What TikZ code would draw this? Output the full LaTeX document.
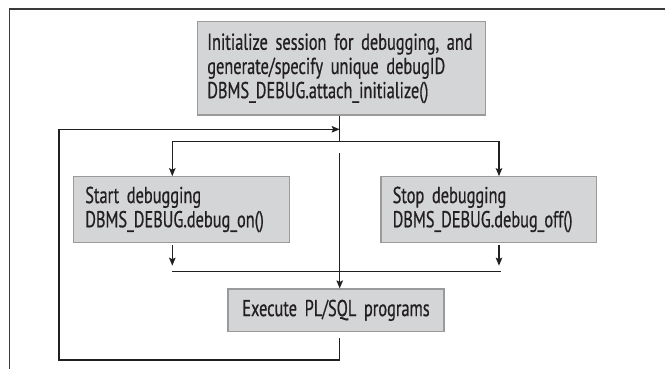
\documentclass[tikz,border=0pt]{standalone}
\usepackage{fontspec}
\setmainfont[FakeStretch=0.71,WordSpace=1.5,FakeBold=0.6]{PT Sans}
\usetikzlibrary{arrows.meta}
\definecolor{boxfill}{HTML}{D4D5D7}
\definecolor{boxline}{HTML}{9A9A9A}
\definecolor{ink}{HTML}{231F20}
\definecolor{framec}{HTML}{3A3A3A}
\tikzset{
  procbox/.style={draw=boxline, fill=boxfill, line width=1.1pt, inner ysep=0pt, text=ink,
    font=\fontsize{23}{24.2}\selectfont},
  conn/.style={draw=ink, line width=1.4pt},
  arr/.style={conn, -{Stealth[length=8pt,width=6.5pt,inset=1.5pt]}},
}
\begin{document}
\begin{tikzpicture}[x=1pt,y=1pt]
\useasboundingbox (0,0) rectangle (665,-369);
\fill[white] (0,0) rectangle (665,-369);
% frame
\draw[framec, line width=1.6pt] (9.3,-369) -- (9.3,-9.3) -- (665,-9.3);

% boxes
\node[procbox, minimum width=288pt, minimum height=93.3pt, text width=268pt, inner xsep=10pt, align=left]
  (init) at (341.3,-68.35) {\mbox{Initialize session for debugging, and}\\\mbox{generate/specify unique debugID}\\\mbox{DBMS\_DEBUG.attach\_initialize()}};
\node[procbox, minimum width=216.4pt, minimum height=65.6pt, text width=192.4pt, inner xsep=12pt, align=left]
  (start) at (181.5,-209.5) {Start debugging\\\mbox{DBMS\_DEBUG.debug\_on()}};
\node[procbox, minimum width=215.3pt, minimum height=65.6pt, text width=191.9pt, inner xsep=11.7pt, align=left]
  (stop) at (488.65,-209.5) {Stop debugging\\\mbox{DBMS\_DEBUG.debug\_off()}};
\node[procbox, minimum width=216pt, minimum height=42.7pt, text width=194pt, inner xsep=11pt, align=center]
  (exec) at (336,-310.35) {\mbox{Execute PL/SQL programs}};

% coordinates
\coordinate (j) at (339.7,-141.7);
\coordinate (sL) at (172.3,-141.7);
\coordinate (sR) at (499,-141.7);
\coordinate (mid) at (339.7,-153.3);
\coordinate (aL1) at (172.3,-245.3);
\coordinate (aL2) at (172.3,-265.7);
\coordinate (aR1) at (499,-245.3);
\coordinate (aR2) at (499,-265.7);
\coordinate (mL) at (172.3,-271.3);
\coordinate (mR) at (501,-271.3);
\coordinate (loopA) at (339.7,-338);
\coordinate (loopB) at (59,-360);
\coordinate (loopIn) at (339.7,-129.3);

% connectors
\draw[conn] (init.south -| j) -- (j);
\draw[arr] (j) -| (start.north -| sL);
\draw[arr] (j) -| (stop.north -| sR);
\draw[arr] (mid) -- (exec.north -| mid);
\draw[arr] (aL1) -- (aL2);
\draw[arr] (aR1) -- (aR2);
\draw[conn] (mL) -- (mR);
\draw[arr] (loopA) |- (loopB) |- (loopIn);
\end{tikzpicture}
\end{document}
